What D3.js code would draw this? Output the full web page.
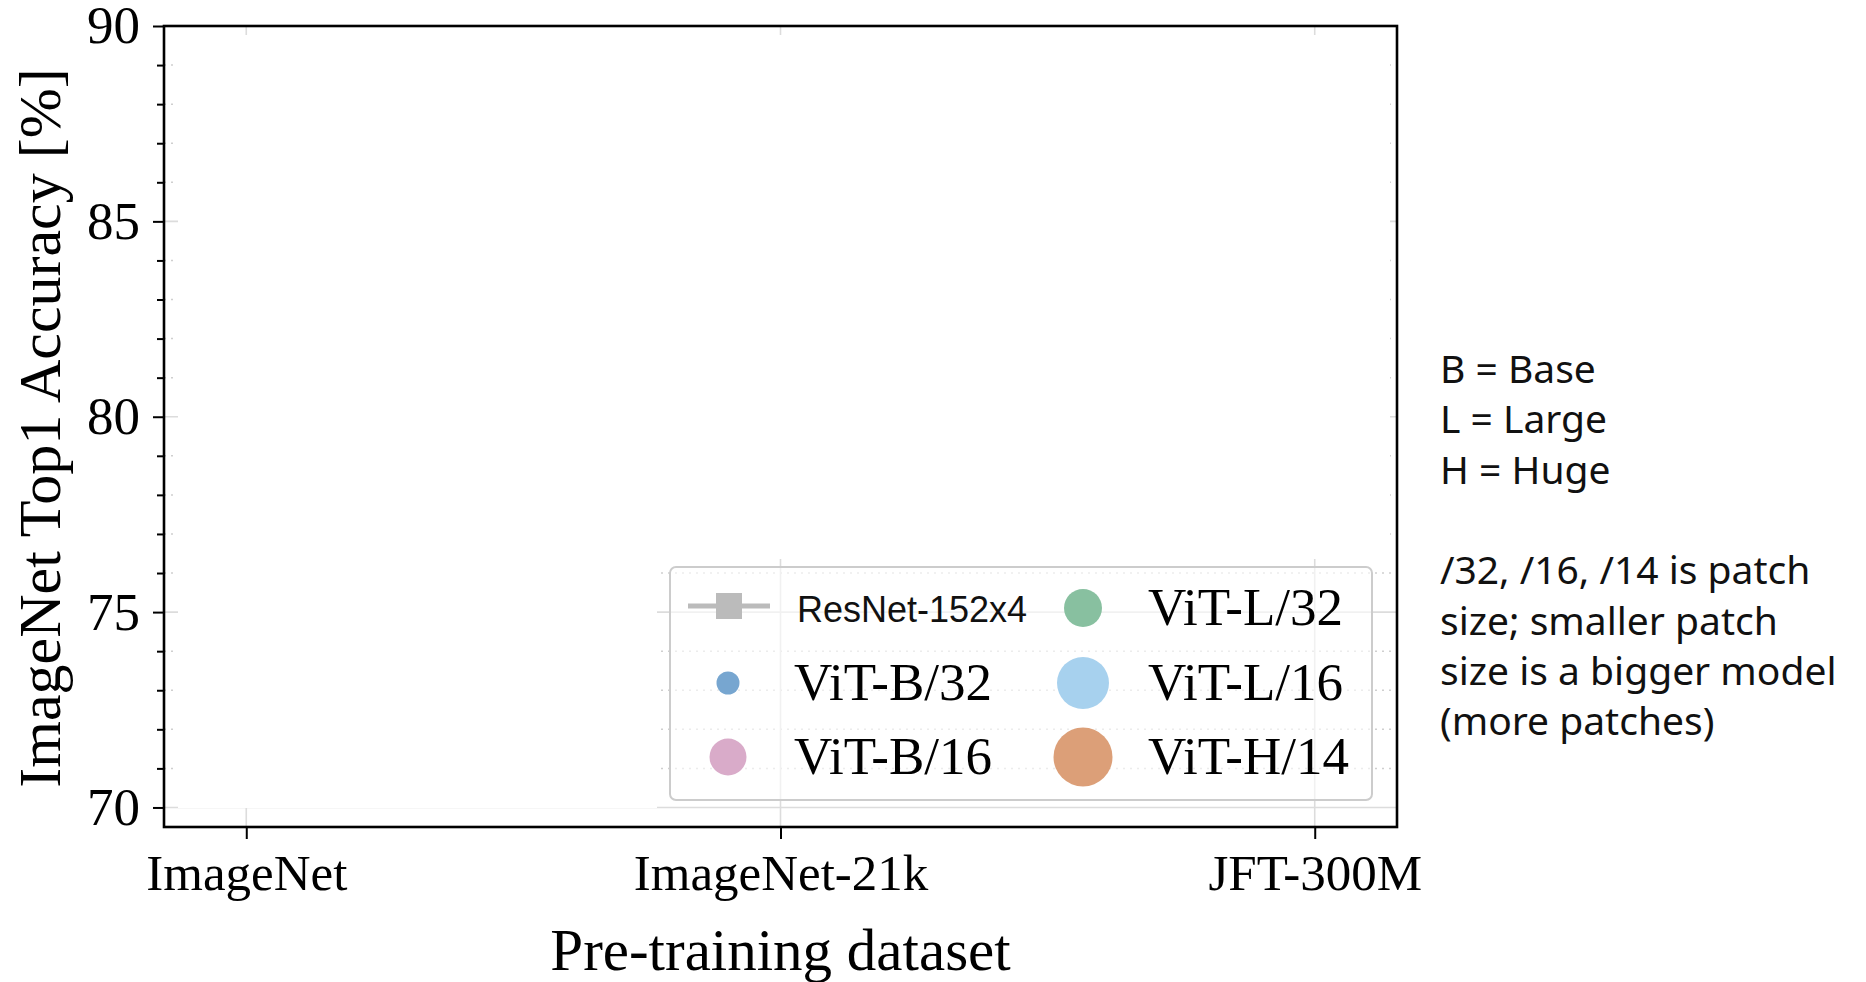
<!DOCTYPE html>
<html>
<head>
<meta charset="utf-8">
<script src="https://cdn.jsdelivr.net/npm/d3@7"></script>
<style>
  html, body { margin: 0; padding: 0; background: #fff; }
  svg { display: block; }
</style>
</head>
<body>
<svg id="chart" width="1866" height="982"></svg>
<script>
// Pre-training datasets along the x axis
const datasets = ["ImageNet", "ImageNet-21k", "JFT-300M"];

// Accuracy axis ticks
const yMajorTicks = [70, 75, 80, 85, 90];
const yMinorTicks = [71, 72, 73, 74, 76, 77, 78, 79, 81, 82, 83, 84, 86, 87, 88, 89];

// Model families listed in the legend (column-major order)
const seriesNames = ["ResNet-152x4", "ViT-B/32", "ViT-B/16", "ViT-L/32", "ViT-L/16", "ViT-H/14"];
const seriesColors = ["#bbbbbb", "#77a6d0", "#d9abc9", "#88c0a0", "#a7d1ee", "#dc9f78"];
const seriesRadius = [0, 11.5, 18.5, 19, 26, 29.5];

// Side notes
const noteLines = [
  "B = Base", "L = Large", "H = Huge", "",
  "/32, /16, /14 is patch", "size; smaller patch", "size is a bigger model", "(more patches)"
];

const svg = d3.select("#chart");
const plot = { left: 164, right: 1397, top: 26, bottom: 827 };

const x = d3.scalePoint().domain(datasets).range([plot.left, plot.right]).padding(0.154);
const y = d3.scaleLinear().domain([69.5, 90]).range([plot.bottom, plot.top]);

const serif = "'Liberation Serif', 'Times New Roman', serif";
const sans = "'Liberation Sans', Arial, sans-serif";
const noteFont = "'Noto Sans', 'Liberation Sans', sans-serif";

// ---- grid: only visible along the frame and behind the legend ----
const defs = svg.append("defs");
const clip = defs.append("clipPath").attr("id", "gridClip");
[
  [plot.left, plot.top, 14, plot.bottom - plot.top],            // left strip
  [plot.left, plot.top, plot.right - plot.left, 9],             // top strip
  [plot.right - 7, plot.top, 7, plot.bottom - plot.top],        // right strip
  [plot.left, 808, plot.right - plot.left, plot.bottom - 808],  // bottom strip
  [657, 559, plot.right - 657, plot.bottom - 559]               // legend area
].forEach(r => clip.append("rect").attr("x", r[0]).attr("y", r[1]).attr("width", r[2]).attr("height", r[3]));

const grid = svg.append("g").attr("clip-path", "url(#gridClip)");
grid.selectAll("line.hmin").data(yMinorTicks).join("line")
  .attr("x1", plot.left).attr("x2", plot.right)
  .attr("y1", d => y(d)).attr("y2", d => y(d))
  .attr("stroke", "#cfcfcf").attr("stroke-width", 1.5).attr("stroke-dasharray", "2,5");
grid.selectAll("line.hmaj").data(yMajorTicks).join("line")
  .attr("x1", plot.left).attr("x2", plot.right)
  .attr("y1", d => y(d)).attr("y2", d => y(d))
  .attr("stroke", "#dcdcdc").attr("stroke-width", 1.6);
grid.selectAll("line.v").data(datasets).join("line")
  .attr("x1", d => x(d)).attr("x2", d => x(d))
  .attr("y1", plot.top).attr("y2", plot.bottom)
  .attr("stroke", "#dcdcdc").attr("stroke-width", 1.6);

// ---- axes ----
const xAxis = svg.append("g")
  .attr("transform", `translate(0,${plot.bottom})`)
  .call(d3.axisBottom(x).tickSize(12).tickPadding(15).tickSizeOuter(0));
xAxis.select(".domain").remove();
xAxis.selectAll("line").attr("stroke", "#000").attr("stroke-width", 2);
xAxis.selectAll("text").attr("fill", "#000")
  .style("font-family", serif).style("font-size", "51px");

const yAxis = svg.append("g")
  .attr("transform", `translate(${plot.left},0)`)
  .call(d3.axisLeft(y).tickValues(yMajorTicks).tickSize(11).tickPadding(13).tickSizeOuter(0));
yAxis.select(".domain").remove();
yAxis.selectAll("line").attr("stroke", "#000").attr("stroke-width", 2);
yAxis.selectAll("text").attr("fill", "#000")
  .style("font-family", serif).style("font-size", "53px");

const yMinor = svg.append("g")
  .attr("transform", `translate(${plot.left},0)`)
  .call(d3.axisLeft(y).tickValues(yMinorTicks).tickSize(7).tickFormat("").tickSizeOuter(0));
yMinor.select(".domain").remove();
yMinor.selectAll("line").attr("stroke", "#000").attr("stroke-width", 2);

// frame
svg.append("rect")
  .attr("x", plot.left).attr("y", plot.top)
  .attr("width", plot.right - plot.left).attr("height", plot.bottom - plot.top)
  .attr("fill", "none").attr("stroke", "#000").attr("stroke-width", 2.6);

// axis titles
svg.append("text")
  .attr("x", (plot.left + plot.right) / 2).attr("y", 970)
  .attr("text-anchor", "middle")
  .style("font-family", serif).style("font-size", "59px").attr("fill", "#000")
  .text("Pre-training dataset");

svg.append("text")
  .attr("transform", `translate(60,428) rotate(-90)`)
  .attr("text-anchor", "middle")
  .style("font-family", serif).style("font-size", "60px").attr("fill", "#000")
  .text("ImageNet Top1 Accuracy [%]");

// ---- legend ----
const legend = svg.append("g");
legend.append("rect")
  .attr("x", 670).attr("y", 567).attr("width", 702).attr("height", 233)
  .attr("rx", 6).attr("ry", 6)
  .attr("fill", "#fff").attr("fill-opacity", 0.6)
  .attr("stroke", "#cccccc").attr("stroke-width", 2);

const colMarkerX = [728, 1083];
const colTextX = [794, 1148];
const rowY = [608, 683, 757];

seriesNames.forEach((name, i) => {
  const col = Math.floor(i / 3), row = i % 3;
  const cx = colMarkerX[col], cy = rowY[row];
  const g = legend.append("g");
  if (i === 0) {
    g.append("line")
      .attr("x1", cx - 40).attr("x2", cx + 42).attr("y1", cy - 2).attr("y2", cy - 2)
      .attr("stroke", seriesColors[i]).attr("stroke-width", 5);
    g.append("rect")
      .attr("x", cx - 12).attr("y", cy - 15).attr("width", 26).attr("height", 26)
      .attr("fill", seriesColors[i]);
    g.append("text")
      .attr("x", 797).attr("y", cy + 14)
      .style("font-family", sans).style("font-size", "36px").attr("fill", "#111")
      .text(name);
  } else {
    g.append("circle")
      .attr("cx", cx).attr("cy", cy).attr("r", seriesRadius[i])
      .attr("fill", seriesColors[i]);
    g.append("text")
      .attr("x", colTextX[col]).attr("y", cy + 17)
      .style("font-family", serif).style("font-size", "53px").attr("fill", "#000")
      .text(name);
  }
});

// ---- side notes ----
svg.append("g").selectAll("text").data(noteLines).join("text")
  .attr("x", 1440).attr("y", (d, i) => 383 + i * 50.3)
  .style("font-family", noteFont).style("font-size", "39px").attr("fill", "#111")
  .text(d => d);
</script>
</body>
</html>
